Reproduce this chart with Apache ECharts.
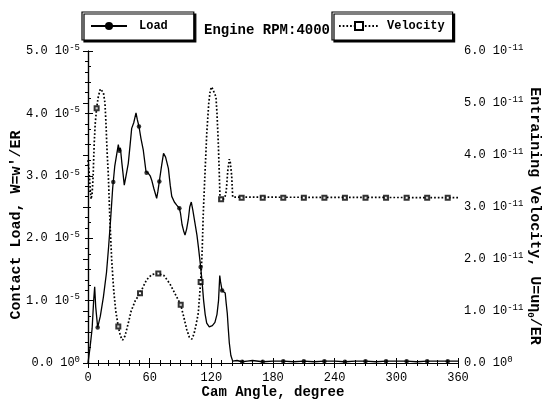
<!DOCTYPE html>
<html>
<head>
<meta charset="utf-8">
<script src="https://cdn.jsdelivr.net/npm/echarts@6/dist/echarts.min.js"></script>
<style>
  html, body { margin: 0; background: #fff; }
  #chart { width: 546px; height: 405px; }
</style>
</head>
<body>
<div id="chart"></div>
<script>
// Load curve, [cam angle (deg), W in units of 10^-5]
const loadCurve = [[0,0],[2,0.25],[4,0.55],[5.5,1.0],[6.5,1.22],[7.5,0.9],[9.4,0.57],[12,0.75],[15,1.06],[18,1.45],
  [20,1.85],[22,2.3],[24,2.8],[26,3.15],[28,3.35],[29.5,3.5],[30.5,3.4],[31.5,3.45],[33,3.2],[35.3,2.85],[37,3.0],
  [39.2,3.2],[41,3.5],[42.5,3.76],[44.5,3.85],[46.7,4.01],[48,3.9],[49.6,3.79],[51.5,3.6],[53.8,3.41],[56.4,3.07],
  [58.7,3.04],[60.5,3.0],[62,2.93],[64,2.8],[66.8,2.64],[68,2.75],[69.4,2.91],[71.5,3.15],[73.5,3.36],[75.5,3.3],
  [78.2,3.12],[80,2.85],[81.5,2.67],[84,2.58],[86.3,2.53],[88.9,2.48],[90,2.4],[91.5,2.22],[93,2.12],[94.4,2.05],
  [96,2.15],[97.6,2.3],[99,2.5],[100.5,2.58],[102,2.45],[104,2.25],[106,2.05],[107.5,1.85],[109.6,1.54],[111,1.3],
  [112.5,1.0],[114,0.78],[115.5,0.64],[118,0.58],[121,0.6],[123.5,0.65],[125.5,0.78],[127,1.0],[128.2,1.4],[129,1.3],
  [130.5,1.16],[132,1.15],[133.5,1.12],[134.5,0.95],[135.5,0.8],[136.5,0.55],[137.5,0.32],[139,0.12],[140.8,0.03],
  [145,0.04],[150,0.02],[155,0.03],[160,0.04],[170,0.02],[180,0.03],[190,0.03],[200,0.02],[210,0.03],[220,0.02],
  [230,0.03],[240,0.03],[250,0.02],[260,0.03],[270,0.03],[280,0.02],[290,0.03],[300,0.03],[310,0.03],[320,0.02],
  [330,0.03],[340,0.03],[350,0.03],[360,0.03]];
const loadMarks = [[9.4,0.57],[24.6,2.9],[30.5,3.4],[49.6,3.79],[57,3.05],[69.4,2.91],[88.9,2.48],[109.6,1.54],
  [130.5,1.16],[150,0.02],[170,0.02],[190,0.03],[210,0.03],[230,0.03],[250,0.02],[270,0.03],[290,0.03],[310,0.03],
  [330,0.03],[350,0.03]];

// Velocity curve, [cam angle (deg), U in units of 10^-11]
const velCurve = [[0,3.9],[1,3.7],[2,3.4],[3,3.15],[4,3.25],[5,3.6],[6,4.2],[7,4.6],[8.4,4.9],[10,5.12],[12,5.27],
  [13.3,5.3],[15,5.2],[16.5,5.0],[17.5,4.6],[18.5,4.1],[19.8,3.6],[21.4,2.7],[23,2.0],[25,1.4],[27,1.0],[29.5,0.7],
  [31.5,0.52],[33.7,0.44],[36,0.52],[39,0.75],[42,1.0],[46,1.2],[50.6,1.34],[57,1.6],[62,1.7],[68.4,1.72],[74,1.68],
  [79.8,1.52],[85,1.32],[90.2,1.12],[93,0.9],[96,0.65],[98.5,0.5],[101,0.46],[103,0.55],[105,0.72],[107.3,0.96],
  [109.6,1.56],[111,2.1],[112.2,2.9],[113.5,3.5],[115.5,4.4],[117.5,5.0],[119,5.25],[120.4,5.31],[122,5.28],
  [124.5,5.12],[125.5,4.8],[126.8,4.22],[127.8,3.6],[128.4,3.2],[129,3.15],[131,3.15],[133,3.17],[134.5,3.3],
  [136,3.7],[137.5,3.92],[138.5,3.85],[139.8,3.6],[140.8,3.19],[142,3.18],[360,3.18]];
const velMarks = [[8.4,4.9],[29.5,0.7],[50.6,1.34],[68.4,1.72],[90.2,1.12],[109.6,1.56],[129.5,3.15],[149.5,3.18],
  [170,3.18],[190,3.18],[210,3.18],[230,3.18],[250,3.18],[270,3.18],[290,3.18],[310,3.18],[330,3.18],[350,3.18]];

const loadExp = '-5';
const velExp = '-11';
const chartTitle = 'Engine RPM:4000';

const mono = 'Liberation Mono';
const sciRich = {
  m: { fontFamily: mono, fontSize: 12, color: '#000', lineHeight: 16 },
  s: { fontFamily: mono, fontSize: 9, color: '#000', lineHeight: 9, verticalAlign: 'top' }
};
const sciLabel = (exp) => (v) => '{m|' + v.toFixed(1) + ' 10}{s|' + (v === 0 ? '0' : exp) + '}';
const tickStyle = { inside: true, length: 5, lineStyle: { color: '#000', width: 1 } };
const minorStyle = (n) => ({ show: true, splitNumber: n, length: 3, lineStyle: { color: '#000', width: 1 } });

const chart = echarts.init(document.getElementById('chart'));
chart.setOption({
  animation: false,
  backgroundColor: '#fff',
  title: {
    text: chartTitle, left: 199, top: 18,
    textStyle: { fontFamily: mono, fontSize: 14, fontWeight: 'bold', color: '#000' }
  },
  legend: [
    {
      data: ['Load'], left: 82, top: 12, orient: 'horizontal',
      itemWidth: 36, itemHeight: 10, padding: [8, 26, 8, 8],
      borderColor: '#000', borderWidth: 1.2, backgroundColor: '#fff',
      shadowColor: '#000', shadowOffsetX: 2, shadowOffsetY: 2, shadowBlur: 0,
      textStyle: { fontFamily: mono, fontSize: 12, fontWeight: 'bold', color: '#000', padding: [0, 0, 0, 7] }
    },
    {
      data: ['Velocity'], left: 332, top: 12, orient: 'horizontal',
      itemWidth: 40, itemHeight: 10, padding: [8, 8, 8, 6],
      borderColor: '#000', borderWidth: 1.2, backgroundColor: '#fff',
      shadowColor: '#000', shadowOffsetX: 2, shadowOffsetY: 2, shadowBlur: 0,
      textStyle: { fontFamily: mono, fontSize: 12, fontWeight: 'bold', color: '#000', padding: [0, 0, 0, 3] }
    }
  ],
  grid: { left: 88, right: 88, top: 51, bottom: 42, containLabel: false, outerBoundsMode: 'none' },
  xAxis: [
    {
      type: 'value', min: 0, max: 360, interval: 60, position: 'bottom',
      name: 'Cam Angle, degree', nameLocation: 'middle', nameGap: 22, nameMoveOverlap: false,
      nameTextStyle: { fontFamily: mono, fontSize: 14, fontWeight: 'bold', color: '#000' },
      axisLine: { lineStyle: { color: '#000', width: 1.2 } },
      axisTick: tickStyle,
      minorTick: minorStyle(6),
      axisLabel: { fontFamily: mono, fontSize: 12, color: '#000', margin: 9 },
      splitLine: { show: false }
    },
    {
      type: 'value', min: 0, max: 360, interval: 60, position: 'top',
      axisLine: { lineStyle: { color: '#000', width: 1.2 } },
      axisTick: tickStyle,
      minorTick: minorStyle(6),
      axisLabel: { show: false },
      splitLine: { show: false }
    }
  ],
  yAxis: [
    {
      type: 'value', min: 0, max: 5, interval: 1, position: 'left',
      name: "Contact Load, W=w'/ER", nameLocation: 'middle', nameGap: 64, nameRotate: 90, nameMoveOverlap: false,
      nameTextStyle: { fontFamily: mono, fontSize: 15, fontWeight: 'bold', color: '#000', padding: [0, 36, 0, 0] },
      axisLine: { show: true, lineStyle: { color: '#000', width: 1.2 } },
      axisTick: tickStyle,
      minorTick: minorStyle(4),
      axisLabel: { formatter: sciLabel(loadExp), rich: sciRich, margin: 8 },
      splitLine: { show: false }
    },
    {
      type: 'value', min: 0, max: 6, interval: 1, position: 'right',
      name: '{b|Entraining Velocity, U=u\u03b7}{sub|0}{b|/ER}', nameLocation: 'middle', nameGap: 68, nameRotate: -90,
      nameMoveOverlap: false,
      nameTextStyle: {
        padding: [0, 0, 0, 18],
        rich: {
          b: { fontFamily: mono, fontSize: 15, fontWeight: 'bold', color: '#000', lineHeight: 18 },
          sub: { fontFamily: mono, fontSize: 9, fontWeight: 'bold', color: '#000', lineHeight: 18, verticalAlign: 'bottom' }
        }
      },
      axisLine: { show: true, lineStyle: { color: '#000', width: 1.2 } },
      axisTick: tickStyle,
      minorTick: minorStyle(5),
      axisLabel: { formatter: sciLabel(velExp), rich: sciRich, margin: 6 },
      splitLine: { show: false }
    }
  ],
  series: [
    {
      name: 'Load', type: 'line', xAxisIndex: 0, yAxisIndex: 0, data: loadCurve,
      symbol: 'circle', symbolSize: 6, showSymbol: false,
      lineStyle: { color: '#000', width: 1.3 }, itemStyle: { color: '#000' }
    },
    {
      name: 'Load', type: 'scatter', xAxisIndex: 0, yAxisIndex: 0, data: loadMarks,
      symbol: 'circle', symbolSize: 4.5, itemStyle: { color: '#000' }, z: 3
    },
    {
      name: 'Velocity', type: 'line', xAxisIndex: 0, yAxisIndex: 1, data: velCurve,
      symbol: 'emptyRect', symbolSize: 5, showSymbol: false,
      lineStyle: { color: '#000', width: 1.7, type: [1.7, 2] }, itemStyle: { color: '#000', borderWidth: 1 }
    },
    {
      name: 'Velocity', type: 'scatter', xAxisIndex: 0, yAxisIndex: 1, data: velMarks,
      symbol: 'emptyRect', symbolSize: 4, itemStyle: { color: '#000', borderWidth: 1 }, z: 3
    }
  ]
});
</script>
</body>
</html>
